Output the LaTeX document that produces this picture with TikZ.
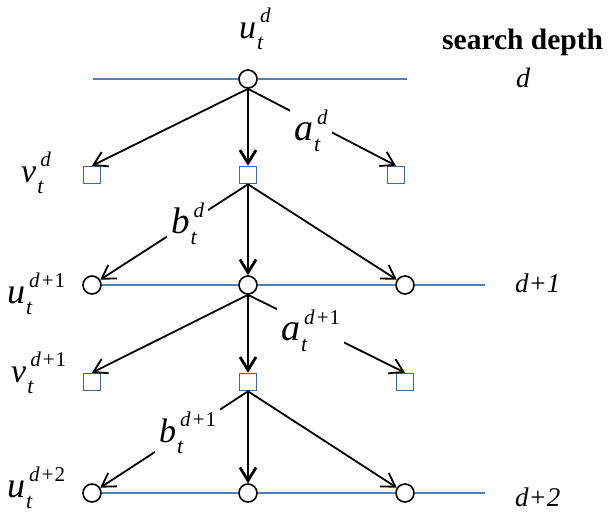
\documentclass[tikz,border=0pt]{standalone}
\usepackage{fontspec}
\setmainfont{Liberation Serif}
\usetikzlibrary{arrows.meta}
\definecolor{lblue}{RGB}{79,129,189}
\definecolor{sqblue}{RGB}{65,105,160}
\newcommand{\fs}[1]{\fontsize{#1}{#1}\selectfont}
\newcommand{\ml}[4]{{\fs{#1}\textit{#2}}\rlap{\kern1pt\raisebox{-11pt}{\fs{22}\textit{#3}}}\kern4pt\raisebox{16pt}{\fs{21}#4}}
\newcommand{\dplus}[1]{\textit{d}\kern2pt+\kern1pt#1}
\begin{document}
\begin{tikzpicture}[x=1pt,y=-1pt,
 circ/.style={circle,draw=black,fill=white,line width=1.6pt,minimum size=18pt,inner sep=0pt},
 sq/.style={rectangle,draw=sqblue,fill=white,line width=1.6pt,minimum size=17pt,inner sep=0pt},
 lvl/.style={draw=lblue,line width=1.4pt},
 arr/.style={draw=black,line width=1.8pt,-{Straight Barb[length=13pt,width=16pt]}},
 tarr/.style={arr,line width=2.8pt},
 lab/.style={anchor=base west,fill=white,inner sep=4pt},
 txt/.style={anchor=base west,inner sep=0pt}]
\useasboundingbox (0,0) rectangle (609,515);
% nodes
\node[circ] (c0) at (248,79) {};
\node[sq] (s1l) at (92,175) {};
\node[sq] (s1c) at (248,175) {};
\node[sq] (s1r) at (396,175) {};
\node[circ] (c1l) at (92,285) {};
\node[circ] (c1c) at (248,285) {};
\node[circ] (c1r) at (405,285) {};
\node[sq] (s2l) at (92,382) {};
\node[sq] (s2c) at (248,382) {};
\node[sq] (s2r) at (405,382) {};
\node[circ] (c2l) at (92,493) {};
\node[circ] (c2c) at (248,493) {};
\node[circ] (c2r) at (405,493) {};
\coordinate (l0a) at (93,79);
\coordinate (l0b) at (407,79);
\coordinate (e1) at (485,285);
\coordinate (e2) at (485,493);
% level lines
\draw[lvl] (l0a) -- (c0.west) (c0.east) -- (l0b);
\draw[lvl] (c1l.east) -- (c1c.west) (c1c.east) -- (c1r.west) (c1r.east) -- (e1);
\draw[lvl] (c2l.east) -- (c2c.west) (c2c.east) -- (c2r.west) (c2r.east) -- (e2);
% arrows
\draw[arr] (c0.south) -- (s1l.north);
\draw[arr] (c0.south) -- (s1r.north);
\draw[tarr] (c0.south) -- (s1c.north);
\draw[arr] (s1c.south) -- (c1l);
\draw[arr] (s1c.south) -- (c1r);
\draw[tarr] (s1c.south) -- (c1c.north);
\draw[arr] (c1c.south) -- (s2l.north);
\draw[arr] (c1c.south) -- (s2r.north);
\draw[tarr] (c1c.south) -- (s2c.north);
\draw[arr] (s2c.south) -- (c2l);
\draw[arr] (s2c.south) -- (c2r);
\draw[tarr] (s2c.south) -- (c2c.north);
% labels
\node[txt] (ud) at (239,38) {\ml{34}{u}{t}{\textit{d}}};
\node[lab] (ad) at (290,140) {\ml{38}{a}{t}{\textit{d}}};
\node[lab] (bd) at (167,233) {\ml{37}{b}{t}{\textit{d}}};
\node[lab] (ad1) at (277,340) {\ml{38}{a}{t}{\dplus{1}}};
\node[lab] (bd1) at (155,442) {\ml{34}{b}{t}{\dplus{1}}};
\node[txt] (vd) at (21,182) {\ml{34}{v}{t}{\textit{d}}};
\node[txt] (ud1) at (7,303) {\ml{36}{u}{t}{\dplus{1}}};
\node[txt] (vd1) at (11,382) {\ml{34}{v}{t}{\dplus{1}}};
\node[txt] (ud2) at (7,497) {\ml{36}{u}{t}{\dplus{2}}};
% right texts
\node[txt] (sd) at (442,49) {\fs{29.5}\textbf{search depth}};
\node[txt] (dd) at (516,87) {\fs{28}\textit{d}};
\node[txt] (dd1) at (515,292) {\fs{27}\textit{d+1}};
\node[txt] (dd2) at (515,506) {\fs{27}\textit{d+2}};
\end{tikzpicture}
\end{document}
